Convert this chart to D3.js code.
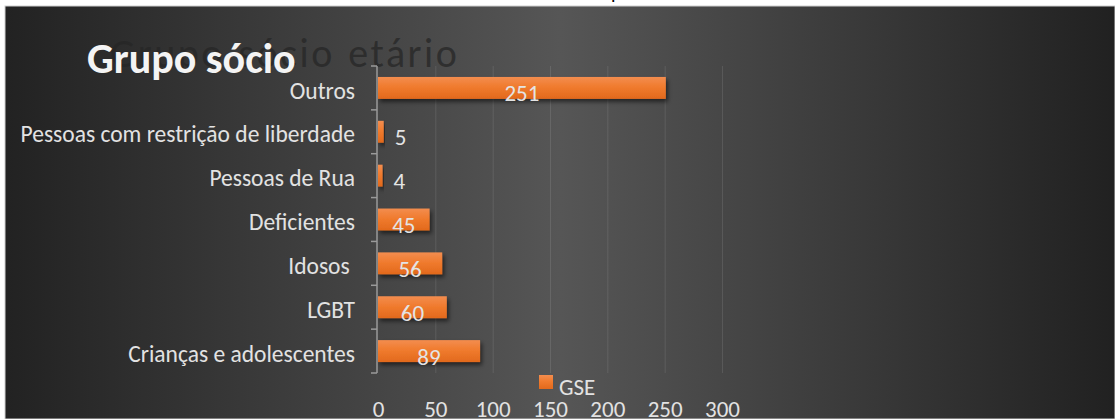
<!DOCTYPE html>
<html>
<head>
<meta charset="utf-8">
<script src="https://cdn.jsdelivr.net/npm/d3@7/dist/d3.min.js"></script>
<style>
    body { margin: 0; background: #fff; }
    svg { display: block; font-family: Calibri, Carlito, Lato, sans-serif; }
    .axis text { white-space: pre; }
</style>
</head>
<body>
<div id="chart"></div>
<script>
// data
var categories = ["Outros", "Pessoas com restrição de liberdade", "Pessoas de Rua",
    "Deficientes", "Idosos ", "LGBT", "Crianças e adolescentes"];
var values = [251, 5, 4, 45, 56, 60, 89];
var xTicks = [0, 50, 100, 150, 200, 250, 300];
var seriesName = "GSE";
var title = "Grupo sócio";
var titleBehind = "Grupo sócio etário";

var W = 1115, H = 419;
var plot = { left: 378, right: 722, top: 66, bottom: 373 };

var svg = d3.select("#chart")
    .append("svg")
    .attr("width", W)
    .attr("height", H);

var defs = svg.append("defs");

var bg = defs.append("linearGradient").attr("id", "bg")
    .attr("x1", 0).attr("x2", 1).attr("y1", 0).attr("y2", 0);
bg.append("stop").attr("offset", "0%").attr("stop-color", "#222222");
bg.append("stop").attr("offset", "50%").attr("stop-color", "#565656");
bg.append("stop").attr("offset", "100%").attr("stop-color", "#212121");

var barGrad = defs.append("linearGradient").attr("id", "barGrad")
    .attr("x1", 0).attr("x2", 0).attr("y1", 0).attr("y2", 1);
barGrad.append("stop").attr("offset", "0%").attr("stop-color", "#f38d4f");
barGrad.append("stop").attr("offset", "45%").attr("stop-color", "#f07b2e");
barGrad.append("stop").attr("offset", "100%").attr("stop-color", "#e2691c");

var shadow = defs.append("filter").attr("id", "shadow")
    .attr("x", "-10%").attr("y", "-30%").attr("width", "130%").attr("height", "180%");
shadow.append("feDropShadow")
    .attr("dx", 2).attr("dy", 3).attr("stdDeviation", 2)
    .attr("flood-color", "#000").attr("flood-opacity", 0.55);

// white page edge + dark chart area
svg.append("rect").attr("width", W).attr("height", H).attr("fill", "#fff");
svg.append("rect")
    .attr("x", 5).attr("y", 6)
    .attr("width", W - 5).attr("height", H - 6)
    .attr("fill", "url(#bg)")
    .attr("stroke", "#cfcfcf").attr("stroke-width", 1);

// bit of cut-off text above the chart
svg.append("text")
    .attr("x", 611).attr("y", -1)
    .attr("font-size", 20)
    .attr("fill", "#000")
    .text("p");

//scales
var xScale = d3.scaleLinear()
    .domain([0, 300])
    .range([plot.left, plot.right]);

var yScale = d3.scaleBand()
    .domain(categories)
    .range([plot.top, plot.bottom])
    .paddingInner(0.5)
    .paddingOuter(0.25);

// title that sits behind
svg.append("text")
    .attr("x", 110).attr("y", 67)
    .attr("font-size", 40)
    .attr("letter-spacing", 2.5)
    .attr("word-spacing", 2)
    .attr("fill", "#262626")
    .attr("fill-opacity", 0.75)
    .text(titleBehind);

//gridlines
svg.append("g")
    .attr("class", "grid")
    .attr("transform", "translate(0," + plot.bottom + ")")
    .call(d3.axisBottom(xScale)
        .tickValues(xTicks.slice(1))
        .tickSize(-(plot.bottom - plot.top))
        .tickFormat(""))
    .call(function (g) {
        g.select(".domain").remove();
        g.selectAll("line").attr("stroke", "#ffffff").attr("stroke-opacity", 0.1);
    });

//bars
svg.append("g")
    .selectAll("rect")
    .data(values)
    .enter()
    .append("rect")
    .attr("x", xScale(0))
    .attr("y", function (d, i) { return yScale(categories[i]); })
    .attr("width", function (d) { return xScale(d) - xScale(0); })
    .attr("height", yScale.bandwidth())
    .attr("fill", "url(#barGrad)")
    .attr("filter", "url(#shadow)");

//bar labels
svg.append("g")
    .selectAll("text")
    .data(values)
    .enter()
    .append("text")
    .attr("x", function (d) {
        var w = xScale(d) - xScale(0);
        return w > 30 ? xScale(0) + w / 2 : xScale(d) + 11;
    })
    .attr("y", function (d, i) { return yScale(categories[i]) + yScale.bandwidth() + 2.5; })
    .attr("text-anchor", function (d) {
        return xScale(d) - xScale(0) > 30 ? "middle" : "start";
    })
    .attr("font-size", 23)
    .attr("fill", "#e4e4e4")
    .text(function (d) { return d; });

//y axis
var yAxisG = svg.append("g")
    .attr("class", "axis y")
    .attr("transform", "translate(" + (plot.left - 1) + ",0)")
    .call(d3.axisLeft(yScale).tickSize(0).tickPadding(22));
yAxisG.select(".domain").remove();
yAxisG.selectAll("text")
    .attr("dy", "0.45em")
    .attr("font-size", 23.5)
    .attr("font-family", "Calibri, Carlito, Lato, sans-serif")
    .attr("fill", "#e2e2e2");

var gap = (yScale.step() - yScale.bandwidth()) / 2;
var bounds = categories.map(function (c) { return yScale(c) - gap; });
bounds.push(yScale(categories[categories.length - 1]) + yScale.bandwidth() + gap);

yAxisG.append("line")
    .attr("x1", 0).attr("x2", 0)
    .attr("y1", plot.top).attr("y2", plot.bottom)
    .attr("stroke", "#9a9a9a").attr("stroke-width", 1.5);
yAxisG.selectAll(".bound")
    .data(bounds)
    .enter()
    .append("line")
    .attr("class", "bound")
    .attr("x1", -6).attr("x2", 0)
    .attr("y1", function (d) { return d; })
    .attr("y2", function (d) { return d; })
    .attr("stroke", "#9a9a9a").attr("stroke-width", 1.5);

//x axis labels
var xAxisG = svg.append("g")
    .attr("class", "axis x")
    .attr("transform", "translate(0,417)")
    .call(d3.axisBottom(xScale).tickValues(xTicks).tickSize(0).tickPadding(0));
xAxisG.select(".domain").remove();
xAxisG.selectAll("text")
    .attr("dy", 0)
    .attr("font-size", 23)
    .attr("font-family", "Calibri, Carlito, Lato, sans-serif")
    .attr("fill", "#e2e2e2");

//legend
var legend = svg.append("g").attr("transform", "translate(539,375)");
legend.append("rect")
    .attr("width", 14).attr("height", 14)
    .attr("fill", "url(#barGrad)");
legend.append("text")
    .attr("x", 20).attr("y", 20)
    .attr("font-size", 23)
    .attr("fill", "#e2e2e2")
    .text(seriesName);

//title
svg.append("text")
    .attr("x", 87).attr("y", 73)
    .attr("font-size", 42)
    .attr("font-weight", "bold")
    .attr("fill", "#f4f4f4")
    .text(title);
</script>
</body>
</html>
